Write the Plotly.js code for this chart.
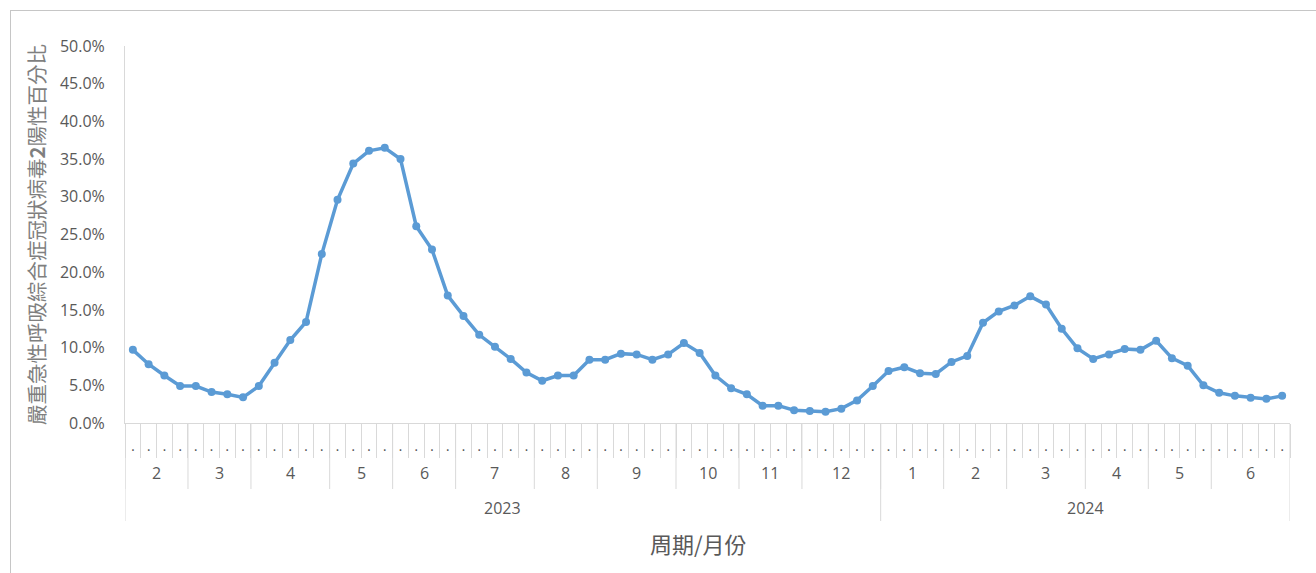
<!DOCTYPE html>
<html>
<head>
<meta charset="utf-8">
<script src="https://cdn.plot.ly/plotly-3.0.1.min.js"></script>
<style>
  html, body { margin: 0; padding: 0; background: #fff; overflow: hidden; }
  #chart { width: 1316px; height: 573px; position: absolute; left: 0; top: 0; }
  #frame { position: absolute; left: 10px; top: 10px; width: 1400px; height: 700px;
           border-left: 1.5px solid #c6c6c6; border-top: 1.5px solid #c6c6c6; pointer-events: none; }
</style>
</head>
<body>
<div id="chart"></div>
<div id="frame"></div>
<script>
// ---- Data ----
const yearLabels = ['2023', '2024'];
const monthsPerYear = [11, 6];
const monthLabels = ['2','3','4','5','6','7','8','9','10','11','12','1','2','3','4','5','6'];
const weeksPerMonth = [4,4,5,4,4,5,4,5,4,4,5,4,4,5,4,4,5];
const weekLabel = '·';
const positivity = [
  9.7, 7.8, 6.3, 4.9, 4.9, 4.1, 3.8, 3.4,      // Feb-Mar 2023
  4.9, 8.0, 11.0, 13.4, 22.4,                 // Apr
  29.6, 34.4, 36.1, 36.5,                     // May
  35.0, 26.1, 23.0, 16.9,                     // Jun
  14.2, 11.7, 10.1, 8.5, 6.7,                 // Jul
  5.6, 6.3, 6.3, 8.4,                         // Aug
  8.4, 9.2, 9.1, 8.4, 9.1,                    // Sep
  10.6, 9.3, 6.3, 4.6,                        // Oct
  3.8, 2.3, 2.3, 1.7,                         // Nov
  1.6, 1.5, 1.9, 3.0, 4.9,                    // Dec
  6.9, 7.4, 6.6, 6.5,                         // Jan 2024
  8.1, 8.9, 13.3, 14.8,                       // Feb
  15.6, 16.8, 15.7, 12.5, 9.9,                // Mar
  8.5, 9.1, 9.8, 9.7,                         // Apr
  10.9, 8.6, 7.6, 5.0,                        // May
  4.0, 3.6, 3.35, 3.2, 3.6                    // Jun
];

// ---- Derived positions ----
const nWeeks = positivity.length;
const weekIdx = positivity.map((_, i) => i);
const yVals = positivity.map(v => v / 100);
const boundaries = [];
for (let k = 0; k <= nWeeks; k++) boundaries.push(k - 0.5);

const TXT = '#595959';
const LINE = '#d9d9d9';
const plotH = 573 - 46 - 150;
const py = px => -(px) / plotH; // pixels below axis -> paper y

const shapes = [];
const annotations = [];
let start = 0;
const monthStarts = [];
weeksPerMonth.forEach((n, m) => {
  monthStarts.push(start);
  annotations.push({
    x: start + (n - 1) / 2, xref: 'x', y: py(50), yref: 'paper',
    text: monthLabels[m], showarrow: false, yanchor: 'middle',
    font: { family: 'Open Sans', size: 16, color: TXT }
  });
  start += n;
});
// month dividers
monthStarts.forEach((s, m) => {
  shapes.push({ type: 'line', xref: 'x', yref: 'paper', x0: s - 0.5, x1: s - 0.5,
    y0: 0, y1: py(66), line: { color: LINE, width: 1 } });
});
// year groups
let mi = 0;
const yearEdges = [];
monthsPerYear.forEach((cnt, yi) => {
  const s = monthStarts[mi];
  let w = 0;
  for (let j = mi; j < mi + cnt; j++) w += weeksPerMonth[j];
  yearEdges.push(s - 0.5);
  annotations.push({
    x: s + (w - 1) / 2, xref: 'x', y: py(85), yref: 'paper',
    text: yearLabels[yi], showarrow: false, yanchor: 'middle',
    font: { family: 'Open Sans', size: 16, color: TXT }
  });
  mi += cnt;
});
yearEdges.push(nWeeks - 0.5);
yearEdges.forEach(x => {
  shapes.push({ type: 'line', xref: 'x', yref: 'paper', x0: x, x1: x,
    y0: 0, y1: py(98), line: { color: LINE, width: 1 } });
});
// x-axis title
annotations.push({
  x: 0.492, xref: 'paper', y: py(119.5), yref: 'paper',
  text: '周期/月份', showarrow: false, yanchor: 'middle',
  font: { family: 'Noto Sans CJK TC', size: 22, color: TXT }
});

const trace = {
  x: weekIdx, y: yVals, type: 'scatter', mode: 'lines+markers',
  line: { color: '#5b9bd5', width: 3.5 },
  marker: { color: '#5b9bd5', size: 8 },
  hoverinfo: 'skip'
};
const dotTrace = { x: [0], y: [0], xaxis: 'x2', yaxis: 'y', mode: 'markers',
  marker: { opacity: 0 }, hoverinfo: 'skip', showlegend: false };

const range = [-0.5, nWeeks - 0.5];
const layout = {
  width: 1316, height: 573,
  margin: { l: 125, r: 26, t: 46, b: 150 },
  paper_bgcolor: '#fff', plot_bgcolor: '#fff',
  showlegend: false,
  xaxis: {
    type: 'linear', range: range, tickmode: 'array', tickvals: boundaries,
    ticks: 'outside', ticklen: 34, tickcolor: LINE, tickwidth: 1,
    showticklabels: false, showline: true, linecolor: LINE, linewidth: 1,
    showgrid: false, zeroline: false, fixedrange: true
  },
  xaxis2: {
    type: 'linear', range: range, overlaying: 'x', anchor: 'y', side: 'bottom',
    tickmode: 'array', tickvals: weekIdx, ticktext: weekIdx.map(() => weekLabel),
    ticks: 'outside', ticklen: 14, tickcolor: 'rgba(0,0,0,0)',
    tickfont: { family: 'DejaVu Sans', size: 14, color: TXT },
    showline: false, showgrid: false, zeroline: false, fixedrange: true
  },
  yaxis: {
    range: [0, 0.5], dtick: 0.05, tick0: 0, tickformat: '.1%',
    ticks: 'outside', ticklen: 16, tickcolor: 'rgba(0,0,0,0)',
    tickfont: { family: 'Open Sans', size: 16, color: TXT },
    showline: true, linecolor: LINE, linewidth: 1,
    showgrid: false, zeroline: false, fixedrange: true,
    title: { text: '嚴重急性呼吸綜合症冠狀病毒<b>2</b>陽性百分比',
             font: { family: 'Noto Sans CJK TC', size: 20.5, color: '#7f7f7f' }, standoff: 8 }
  },
  shapes: shapes,
  annotations: annotations
};

Plotly.newPlot('chart', [dotTrace, trace], layout, { displayModeBar: false, staticPlot: true });
</script>
</body>
</html>
